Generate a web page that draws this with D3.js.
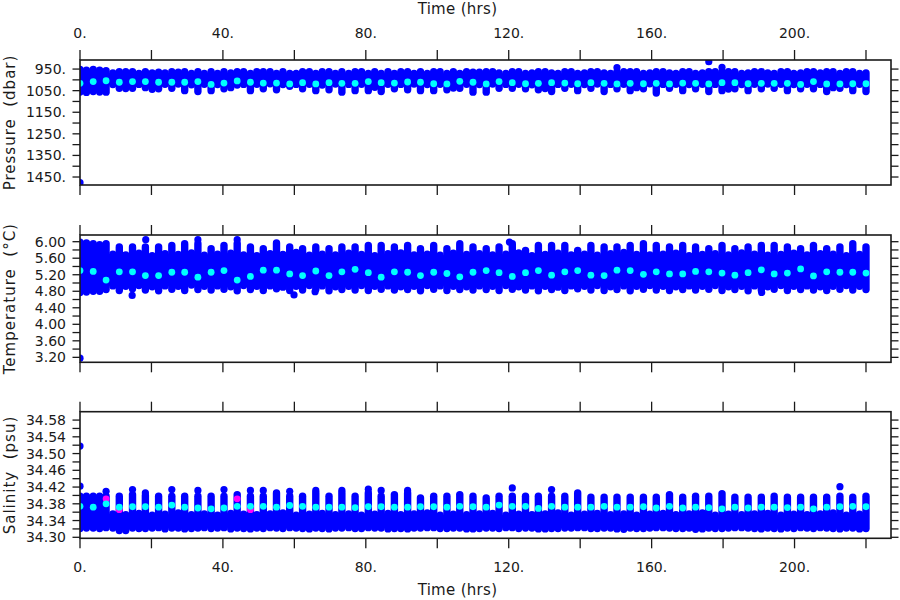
<!DOCTYPE html>
<html><head><meta charset="utf-8">
<script src="https://cdn.jsdelivr.net/npm/d3@7"></script>
<style>
body{margin:0;background:#fff}
svg{display:block}
text{font-family:"DejaVu Sans",sans-serif;fill:#1a1a1a}
</style>
</head><body><svg id="c" width="900" height="600"></svg>
<script>
// ---------- axis ticks / labels ----------
const xTicks = [0,20,40,60,80,100,120,140,160,180,200,220];
const xLabels = [0,40,80,120,160,200];
const presTicks = [950,1000,1050,1100,1150,1200,1250,1300,1350,1400,1450];
const presLabels = [950,1050,1150,1250,1350,1450];
const tempTicks = [3.2,3.4,3.6,3.8,4.0,4.2,4.4,4.6,4.8,5.0,5.2,5.4,5.6,5.8,6.0];
const tempLabels = [3.2,3.6,4.0,4.4,4.8,5.2,5.6,6.0];
const salTicks = [34.30,34.32,34.34,34.36,34.38,34.40,34.42,34.44,34.46,34.48,34.50,34.52,34.54,34.56,34.58];
const salLabels = [34.30,34.34,34.38,34.42,34.46,34.50,34.54,34.58];

// ---------- times (hrs) ----------
const timeCyc = [0,3.7,7.3,11,14.7,18.3,22,25.7,29.3,33,36.7,40.3,44,47.7,51.3,55,58.7,62.3,66,69.7,73.3,77,80.7,84.3,88,91.7,95.3,99,102.7,106.3,110,113.7,117.3,121,124.7,128.3,132,135.7,139.3,143,146.7,150.3,154,157.7,161.3,165,168.7,172.3,176,179.7,183.3,187,190.7,194.3,198,201.7,205.3,209,212.7,216.3,220];
const timeMid = [1.8,5.5,9.2,12.8,16.5,20.2,23.8,27.5,31.2,34.8,38.5,42.2,45.8,49.5,53.2,56.8,60.5,64.2,67.8,71.5,75.2,78.8,82.5,86.2,89.8,93.5,97.2,100.8,104.5,108.2,111.8,115.5,119.2,122.8,126.5,130.2,133.8,137.5,141.2,144.8,148.5,152.2,155.8,159.5,163.2,166.8,170.5,174.2,177.8,181.5,185.2,188.8,192.5,196.2,199.8,203.5,207.2,210.8,214.5,218.2];

// ---------- pressure (dbar) ----------
const presCyan = [1016,1008,1004,1011,1008,1008,1011,1011,1011,1008,1021,1015,1005,1011,1015,1015,1019,1013,1019,1013,1016,1016,1008,1013,1015,1010,1011,1018,1019,1007,1011,1019,1008,1013,1018,1016,1013,1015,1018,1013,1016,1019,1016,1018,1016,1019,1015,1016,1019,1013,1013,1018,1016,1016,1016,1021,1008,1019,1019,1018,1018];
const presCycHi = [952,952,958,962,962,962,965,962,962,962,962,962,962,970,962,970,970,962,970,962,962,962,970,970,970,962,962,962,970,970,965,962,968,962,970,962,968,962,970,962,968,962,962,970,962,968,962,970,962,962,962,968,962,970,962,968,962,962,970,962,968];
const presCycLo = [1056,1054,1057,1039,1039,1036,1041,1039,1050,1054,1050,1041,1024,1050,1041,1046,1030,1041,1050,1046,1057,1050,1050,1054,1041,1046,1050,1050,1046,1039,1057,1057,1039,1039,1041,1046,1054,1039,1050,1039,1054,1041,1050,1041,1061,1039,1050,1041,1054,1050,1041,1050,1041,1039,1050,1041,1041,1054,1039,1050,1054];
const presMidHi = [955,955,968,962,970,968,968,965,970,970,970,968,962,962,962,962,970,962,962,970,970,962,962,962,962,970,970,962,962,962,965,962,970,962,968,962,970,962,968,962,970,962,962,968,962,970,962,968,962,962,970,962,968,962,970,962,968,962,962,970];
const presMidLo = [1058,1056,1022,1040,1021,1044,1020,1019,1023,1020,1022,1036,1021,1020,1018,1022,1021,1020,1024,1019,1021,1020,1034,1020,1021,1019,1022,1020,1038,1020,1022,1019,1021,1020,1023,1040,1021,1020,1022,1019,1021,1020,1036,1018,1021,1020,1022,1020,1021,1042,1022,1020,1019,1020,1022,1020,1021,1036,1022,1020];
const presOutT = [0,150.3,176,179.7];
const presOutV = [1476,943,916,942];

// ---------- temperature (degC) ----------
const tempCyan = [5.30,5.28,5.07,5.27,5.27,5.18,5.18,5.26,5.26,5.14,5.26,5.30,5.07,5.16,5.31,5.31,5.22,5.18,5.29,5.18,5.27,5.33,5.25,5.14,5.27,5.26,5.18,5.26,5.23,5.15,5.26,5.30,5.25,5.16,5.25,5.30,5.19,5.27,5.30,5.19,5.18,5.31,5.30,5.21,5.27,5.22,5.22,5.28,5.27,5.24,5.19,5.25,5.32,5.22,5.24,5.34,5.17,5.27,5.26,5.26,5.24];
const tempCycHi = [5.99,5.95,5.95,5.87,5.87,5.87,5.87,5.91,5.95,5.95,5.83,5.91,5.95,5.87,5.83,5.97,5.87,5.83,5.87,5.83,5.87,5.87,5.91,5.91,5.87,5.91,5.83,5.91,5.83,5.95,5.87,5.83,5.87,5.95,5.79,5.91,5.91,5.91,5.79,5.91,5.87,5.87,5.91,5.95,5.91,5.87,5.91,5.87,5.83,5.91,5.83,5.87,5.91,5.91,5.87,5.83,5.91,5.83,5.87,5.95,5.87];
const tempCycLo = [4.77,4.80,4.84,4.82,4.86,4.83,4.81,4.85,4.82,4.84,4.83,4.85,4.81,4.84,4.82,4.86,4.82,4.83,4.85,4.81,4.84,4.83,4.82,4.85,4.83,4.84,4.81,4.85,4.82,4.84,4.83,4.84,4.82,4.85,4.83,4.81,4.84,4.82,4.86,4.83,4.82,4.84,4.81,4.85,4.83,4.82,4.84,4.83,4.85,4.82,4.84,4.81,4.83,4.85,4.82,4.84,4.83,4.82,4.85,4.83,4.84];
const tempMidHi = [5.97,5.93,5.70,5.68,5.72,5.66,5.71,5.69,5.73,5.67,5.70,5.72,5.68,5.66,5.71,5.69,5.74,5.67,5.70,5.68,5.72,5.69,5.66,5.71,5.73,5.68,5.70,5.67,5.72,5.69,5.71,5.68,5.70,5.73,5.66,5.69,5.72,5.68,5.70,5.67,5.71,5.74,5.69,5.68,5.70,5.72,5.66,5.69,5.71,5.68,5.73,5.70,5.67,5.69,5.72,5.68,5.71,5.70,5.66,5.69];
const tempMidLo = [4.78,4.80,4.93,4.92,4.94,4.91,4.93,4.92,4.95,4.92,4.93,4.91,4.94,4.92,4.93,4.90,4.92,4.94,4.93,4.91,4.92,4.94,4.92,4.93,4.91,4.92,4.94,4.93,4.92,4.91,4.93,4.92,4.94,4.91,4.93,4.92,4.90,4.93,4.92,4.94,4.91,4.93,4.92,4.94,4.92,4.91,4.93,4.92,4.94,4.91,4.92,4.93,4.91,4.94,4.92,4.93,4.91,4.92,4.94,4.92];
const tempOutT = [0,14.6,18.4,33,44,59.9,65.8,120.2,190.8];
const tempOutV = [3.18,4.70,6.05,6.05,6.05,4.71,4.79,5.99,4.77];

// ---------- salinity (psu) ----------
const salCyan = [34.374,34.372,34.380,34.372,34.373,34.373,34.372,34.377,34.372,34.370,34.368,34.370,34.374,34.374,34.374,34.372,34.376,34.374,34.372,34.372,34.372,34.371,34.373,34.373,34.372,34.372,34.373,34.373,34.372,34.374,34.373,34.372,34.377,34.374,34.374,34.369,34.374,34.372,34.372,34.372,34.374,34.372,34.372,34.373,34.370,34.374,34.370,34.372,34.371,34.368,34.372,34.370,34.372,34.372,34.371,34.372,34.368,34.372,34.373,34.374,34.373];
const salCycHi = [34.398,34.398,34.398,34.398,34.402,34.400,34.398,34.398,34.398,34.398,34.398,34.398,34.402,34.398,34.398,34.406,34.398,34.398,34.406,34.398,34.406,34.398,34.406,34.398,34.402,34.406,34.394,34.398,34.398,34.402,34.398,34.394,34.398,34.398,34.398,34.398,34.398,34.398,34.406,34.396,34.396,34.396,34.396,34.396,34.396,34.402,34.396,34.398,34.398,34.404,34.396,34.396,34.396,34.398,34.396,34.396,34.396,34.396,34.398,34.396,34.398];
const salCycLo = [34.321,34.322,34.323,34.316,34.322,34.321,34.323,34.322,34.320,34.322,34.321,34.323,34.322,34.320,34.321,34.322,34.323,34.321,34.322,34.320,34.322,34.321,34.323,34.322,34.321,34.320,34.322,34.323,34.321,34.322,34.320,34.322,34.321,34.323,34.322,34.320,34.321,34.322,34.323,34.321,34.322,34.320,34.322,34.321,34.323,34.322,34.321,34.319,34.322,34.321,34.323,34.322,34.320,34.321,34.322,34.323,34.321,34.322,34.320,34.322,34.321];
const salMidHi = [34.398,34.398,34.356,34.354,34.357,34.353,34.355,34.358,34.354,34.356,34.353,34.357,34.355,34.354,34.356,34.358,34.353,34.355,34.357,34.354,34.356,34.353,34.355,34.357,34.354,34.356,34.358,34.353,34.355,34.354,34.356,34.357,34.353,34.355,34.354,34.356,34.358,34.353,34.355,34.357,34.354,34.356,34.353,34.355,34.357,34.354,34.356,34.358,34.353,34.355,34.354,34.356,34.357,34.353,34.355,34.354,34.356,34.358,34.353,34.355];
const salMidLo = [34.322,34.321,34.322,34.316,34.321,34.322,34.320,34.322,34.321,34.323,34.322,34.320,34.321,34.322,34.323,34.321,34.322,34.320,34.321,34.322,34.323,34.321,34.322,34.320,34.321,34.322,34.323,34.321,34.322,34.320,34.321,34.322,34.323,34.321,34.322,34.320,34.321,34.322,34.323,34.321,34.322,34.319,34.321,34.322,34.323,34.321,34.322,34.320,34.321,34.322,34.323,34.321,34.322,34.320,34.321,34.322,34.323,34.321,34.322,34.320];
const salOutT = [0,0,7.3,14.7,18.3,25.7,33,40.3,47.7,51.3,58.7,66,73.3,80.7,84.3,91.7,121,132,212.7];
const salOutV = [34.518,34.422,34.410,34.414,34.406,34.414,34.412,34.414,34.412,34.412,34.410,34.412,34.412,34.415,34.412,34.412,34.418,34.414,34.421];
const salMagT = [7.3,11,44,47.7];
const salMagV = [34.392,34.366,34.392,34.366];

// ---------- drawing ----------
const svg = d3.select("#c");
const X0 = 80, X1 = 891;
const x = d3.scaleLinear().domain([0,227]).range([X0,X1]);
const BLUE = "#0000ff", CYAN = "#00ffff", MAG = "#ff00ff", INK = "#1a1a1a";

const panels = [
  {id:"p", top:60, bottom:185, y:d3.scaleLinear().domain([908,1487]).range([60,185]),
   ticks:presTicks, labels:presLabels, fmt:d=>d+".", title:"Pressure  (dbar)",
   cyan:presCyan, cycHi:presCycHi, cycLo:presCycLo, midHi:presMidHi, midLo:presMidLo,
   outT:presOutT, outV:presOutV, magT:[], magV:[]},
  {id:"t", top:235, bottom:362.3, y:d3.scaleLinear().domain([3.08,6.162]).range([362.3,235]),
   ticks:tempTicks, labels:tempLabels, fmt:d=>d.toFixed(2), title:"Temperature  (°C)",
   cyan:tempCyan, cycHi:tempCycHi, cycLo:tempCycLo, midHi:tempMidHi, midLo:tempMidLo,
   outT:tempOutT, outV:tempOutV, magT:[], magV:[]},
  {id:"s", top:411.7, bottom:538.3, y:d3.scaleLinear().domain([34.2976,34.600]).range([538.3,411.7]),
   ticks:salTicks, labels:salLabels, fmt:d=>d.toFixed(2), title:"Salinity  (psu)",
   cyan:salCyan, cycHi:salCycHi, cycLo:salCycLo, midHi:salMidHi, midLo:salMidLo,
   outT:salOutT, outV:salOutV, magT:salMagT, magV:salMagV}
];

const defs = svg.append("defs");
panels.forEach((P, k) => {
  defs.append("clipPath").attr("id","clip"+P.id).append("rect")
    .attr("x",X0).attr("y",P.top).attr("width",X1-X0).attr("height",P.bottom-P.top);

  const g = svg.append("g");
  const plot = g.append("g").attr("clip-path","url(#clip"+P.id+")");
  const y = P.y;

  const bars = timeCyc.map((t,i)=>({t, hi:P.cycHi[i], lo:P.cycLo[i]}))
    .concat(timeMid.map((t,i)=>({t, hi:P.midHi[i], lo:P.midLo[i]})))
    .sort((a,b)=>a.t-b.t);

  // fill the common extent between neighbouring bars
  const pairs = d3.pairs(bars).map(([a,b])=>{
    const ya = [y(a.hi),y(a.lo)].sort((m,n)=>m-n), yb = [y(b.hi),y(b.lo)].sort((m,n)=>m-n);
    return {x0:x(a.t), x1:x(b.t), y0:Math.max(ya[0],yb[0]), y1:Math.min(ya[1],yb[1])};
  });
  plot.selectAll("rect.f").data(pairs).join("rect")
    .attr("x",d=>d.x0).attr("width",d=>d.x1-d.x0)
    .attr("y",d=>d.y0).attr("height",d=>Math.max(0,d.y1-d.y0)).attr("fill",BLUE);

  plot.selectAll("line.b").data(bars).join("line")
    .attr("x1",d=>x(d.t)).attr("x2",d=>x(d.t))
    .attr("y1",d=>y(d.hi)).attr("y2",d=>y(d.lo))
    .attr("stroke",BLUE).attr("stroke-width",7.4).attr("stroke-linecap","round");

  plot.selectAll("circle.o").data(P.outT.map((t,i)=>({t,v:P.outV[i]}))).join("circle")
    .attr("cx",d=>x(d.t)).attr("cy",d=>y(d.v)).attr("r",3.6).attr("fill",BLUE);

  plot.selectAll("circle.m").data(P.magT.map((t,i)=>({t,v:P.magV[i]}))).join("circle")
    .attr("cx",d=>x(d.t)).attr("cy",d=>y(d.v)).attr("r",3.4).attr("fill",MAG);

  plot.selectAll("circle.c").data(timeCyc.map((t,i)=>({t,v:P.cyan[i]}))).join("circle")
    .attr("cx",d=>x(d.t)).attr("cy",d=>y(d.v)).attr("r",3.4).attr("fill",CYAN);

  // frame
  g.append("rect").attr("x",X0).attr("y",P.top).attr("width",X1-X0).attr("height",P.bottom-P.top)
    .attr("fill","none").attr("stroke",INK).attr("stroke-width",1.6);

  // x ticks: top (up) and bottom (down)
  g.selectAll("line.xt").data(xTicks).join("line")
    .attr("x1",d=>x(d)).attr("x2",d=>x(d)).attr("y1",P.top).attr("y2",P.top-10)
    .attr("stroke",INK).attr("stroke-width",1.3);
  g.selectAll("line.xb").data(xTicks).join("line")
    .attr("x1",d=>x(d)).attr("x2",d=>x(d)).attr("y1",P.bottom).attr("y2",P.bottom+10)
    .attr("stroke",INK).attr("stroke-width",1.3);

  // y ticks: left and right, outward
  g.selectAll("line.yl").data(P.ticks).join("line")
    .attr("x1",X0).attr("x2",X0-7.5).attr("y1",d=>y(d)).attr("y2",d=>y(d))
    .attr("stroke",INK).attr("stroke-width",1.3);
  g.selectAll("line.yr").data(P.ticks).join("line")
    .attr("x1",X1).attr("x2",X1+7.5).attr("y1",d=>y(d)).attr("y2",d=>y(d))
    .attr("stroke",INK).attr("stroke-width",1.3);

  g.selectAll("text.yl").data(P.labels).join("text")
    .attr("x",66).attr("y",d=>y(d)).attr("dy","0.36em")
    .attr("text-anchor","end").style("font-size","14px").text(P.fmt);

  g.append("text")
    .attr("transform",`translate(15,${(P.top+P.bottom)/2}) rotate(-90)`)
    .attr("text-anchor","middle").style("font-size","15px")
    .style("letter-spacing","1px").style("white-space","pre")
    .text(P.title);
});

// top x labels + title
svg.selectAll("text.xtop").data(xLabels).join("text")
  .attr("x",d=>x(d)).attr("y",38).attr("text-anchor","middle")
  .style("font-size","14px").text(d=>d+".");
svg.append("text").attr("x",457.5).attr("y",14).attr("text-anchor","middle")
  .style("font-size","15px").style("letter-spacing","0.3px").text("Time (hrs)");
// bottom x labels + title
svg.selectAll("text.xbot").data(xLabels).join("text")
  .attr("x",d=>x(d)).attr("y",572).attr("text-anchor","middle")
  .style("font-size","14px").text(d=>d+".");
svg.append("text").attr("x",457.5).attr("y",595).attr("text-anchor","middle")
  .style("font-size","15px").style("letter-spacing","0.3px").text("Time (hrs)");
</script>
</body></html>
